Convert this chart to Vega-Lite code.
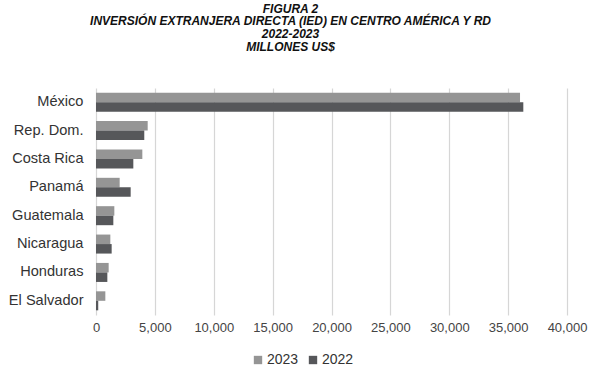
{
  "$schema": "https://vega.github.io/schema/vega-lite/v6.json",
  "autosize": "none",
  "width": 471,
  "height": 227,
  "padding": {"left": 96, "top": 88, "right": 35, "bottom": 68},
  "background": "white",
  "title": {
    "text": ["FIGURA 2", "INVERSIÓN EXTRANJERA DIRECTA (IED) EN CENTRO AMÉRICA Y RD", "2022-2023", "MILLONES US$"],
    "font": "Liberation Sans",
    "fontSize": 12,
    "fontWeight": "bold",
    "fontStyle": "italic",
    "color": "#111111",
    "lineHeight": 12.8,
    "anchor": "middle",
    "dx": -41,
    "offset": 34
  },
  "data": {
    "values": [
      {"pais": "México", "anio": "2023", "valor": 36010},
      {"pais": "México", "anio": "2022", "valor": 36290},
      {"pais": "Rep. Dom.", "anio": "2023", "valor": 4390},
      {"pais": "Rep. Dom.", "anio": "2022", "valor": 4100},
      {"pais": "Costa Rica", "anio": "2023", "valor": 3935},
      {"pais": "Costa Rica", "anio": "2022", "valor": 3170},
      {"pais": "Panamá", "anio": "2023", "valor": 2010},
      {"pais": "Panamá", "anio": "2022", "valor": 2945},
      {"pais": "Guatemala", "anio": "2023", "valor": 1557},
      {"pais": "Guatemala", "anio": "2022", "valor": 1472},
      {"pais": "Nicaragua", "anio": "2023", "valor": 1218},
      {"pais": "Nicaragua", "anio": "2022", "valor": 1330},
      {"pais": "Honduras", "anio": "2023", "valor": 1075},
      {"pais": "Honduras", "anio": "2022", "valor": 963},
      {"pais": "El Salvador", "anio": "2023", "valor": 793},
      {"pais": "El Salvador", "anio": "2022", "valor": 190}
    ]
  },
  "mark": {"type": "bar"},
  "encoding": {
    "y": {
      "field": "pais",
      "type": "nominal",
      "sort": ["México", "Rep. Dom.", "Costa Rica", "Panamá", "Guatemala", "Nicaragua", "Honduras", "El Salvador"],
      "scale": {"paddingInner": 0.33, "paddingOuter": 0.165},
      "axis": {
        "title": null,
        "domain": false,
        "ticks": false,
        "labelPadding": 13,
        "labelFont": "Liberation Sans",
        "labelFontSize": 14.6,
        "labelColor": "#333333"
      }
    },
    "yOffset": {
      "field": "anio",
      "type": "nominal",
      "sort": ["2023", "2022"]
    },
    "x": {
      "field": "valor",
      "type": "quantitative",
      "scale": {"domain": [0, 40000], "nice": false},
      "axis": {
        "title": null,
        "values": [0, 5000, 10000, 15000, 20000, 25000, 30000, 35000, 40000],
        "format": ",d",
        "domain": false,
        "ticks": false,
        "labelOverlap": false,
        "labelFlush": false,
        "labelBound": false,
        "labelPadding": 6,
        "labelFont": "Liberation Sans",
        "labelFontSize": 13,
        "labelColor": "#444444",
        "gridColor": "#d6d6d6",
        "gridWidth": 1.2
      }
    },
    "color": {
      "field": "anio",
      "type": "nominal",
      "sort": ["2023", "2022"],
      "scale": {"domain": ["2023", "2022"], "range": ["#959595", "#56575a"]},
      "legend": {
        "title": null,
        "orient": "none",
        "direction": "horizontal",
        "legendX": 155,
        "legendY": 265,
        "symbolType": "square",
        "symbolSize": 70,
        "symbolStrokeWidth": 0,
        "labelFont": "Liberation Sans",
        "labelFontSize": 14,
        "labelColor": "#333333",
        "labelOffset": 2,
        "columnPadding": 7
      }
    }
  },
  "config": {"view": {"stroke": null}}
}
